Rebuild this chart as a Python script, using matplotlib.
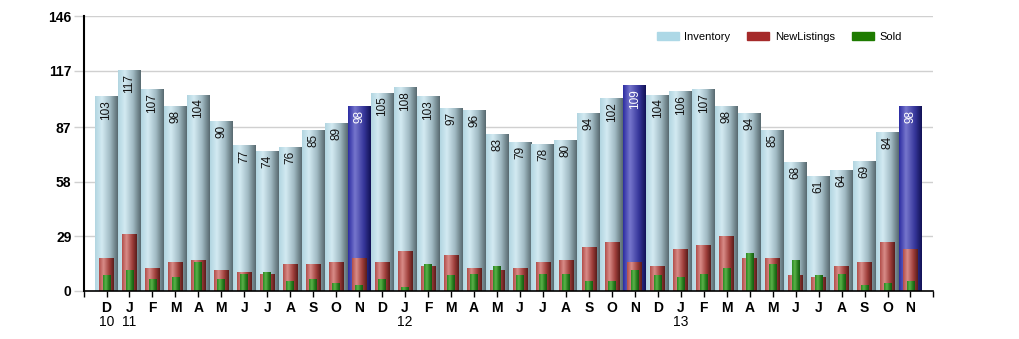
import matplotlib.pyplot as plt
import numpy as np
from matplotlib.colors import LinearSegmentedColormap
from matplotlib.patches import Patch

plt.rcParams['font.family'] = ['Liberation Sans', 'DejaVu Sans']

# monthly series, Dec 2010 .. Nov 2013
months = ['D', 'J', 'F', 'M', 'A', 'M', 'J', 'J', 'A', 'S', 'O', 'N'] * 3
years = {0: '10', 1: '11', 13: '12', 25: '13'}
inventory = [103, 117, 107, 98, 104, 90, 77, 74, 76, 85, 89, 98,
             105, 108, 103, 97, 96, 83, 79, 78, 80, 94, 102, 109,
             104, 106, 107, 98, 94, 85, 68, 61, 64, 69, 84, 98]
new_listings = [17, 30, 12, 15, 16, 11, 10, 9, 14, 14, 15, 17,
                15, 21, 13, 19, 12, 11, 12, 15, 16, 23, 26, 15,
                13, 22, 24, 29, 17, 17, 8, 7, 13, 15, 26, 22]
sold = [8, 11, 6, 7, 15, 6, 9, 10, 5, 6, 4, 3,
        6, 2, 14, 8, 9, 13, 8, 9, 9, 5, 5, 11,
        8, 7, 9, 12, 20, 14, 16, 8, 9, 3, 4, 5]
highlight = [11, 23, 35]
yticks = [0, 29, 58, 87, 117, 146]


def shade(stops):
    return LinearSegmentedColormap.from_list('s', stops)


cm_inv = shade([(0, '#b2d5e1'), (0.3, '#d3eaf2'), (0.65, '#a2bcc5'), (1, '#586a70')])
cm_nov = shade([(0, '#2c2ca2'), (0.3, '#7676cd'), (0.7, '#36369a'), (1, '#121256')])
cm_new = shade([(0, '#b24e4a'), (0.3, '#d98c88'), (0.7, '#9e3e3a'), (1, '#5a1c1a')])
cm_sold = shade([(0, '#2a8a22'), (0.35, '#5cb24a'), (0.7, '#2a8020'), (1, '#145a10')])
ramp = np.linspace(0, 1, 64).reshape(1, -1)


def gradient_fill(ax, bars, cmaps, z):
    for bar, cm in zip(bars, cmaps):
        x0, w, h = bar.get_x(), bar.get_width(), bar.get_height()
        bar.set_alpha(0)
        ax.imshow(ramp, cmap=cm, aspect='auto', extent=(x0, x0 + w, 0, h),
                  zorder=z, interpolation='bilinear')


fig = plt.figure(figsize=(10.19, 3.39), dpi=100)
ax = fig.add_axes([84 / 1019, 48 / 339, 849 / 1019, 275 / 339])

x = np.arange(len(inventory))
b_inv = ax.bar(x, inventory, 1.0, color='#add8e6', zorder=2)
b_new = ax.bar(x, new_listings, 0.64, color='#a52a2a', zorder=3)
b_sold = ax.bar(x, sold, 0.34, color='#1e7b00', zorder=4)

gradient_fill(ax, b_inv, [cm_nov if i in highlight else cm_inv for i in x], 2)
gradient_fill(ax, b_new, [cm_new] * len(x), 3)
gradient_fill(ax, b_sold, [cm_sold] * len(x), 4)

for i, v in enumerate(inventory):
    ax.text(i, v - 1.8, str(v), rotation=90, ha='center', va='top',
            fontsize=8.5, color='white' if i in highlight else '#111111', zorder=5)

ax.set_xlim(-0.98, 35.98)
ax.set_ylim(0, 146)
ax.set_yticks(yticks)
ax.set_yticklabels([str(t) for t in yticks], fontsize=10, fontweight='bold')
ax.set_xticks(x)
ax.set_xticklabels(months, fontsize=10, fontweight='bold')
for i, yr in years.items():
    ax.annotate(yr, xy=(i, 0), xycoords=('data', 'axes fraction'),
                xytext=(0, -17.5), textcoords='offset points',
                ha='center', va='top', fontsize=10)
ax.set_xticks([-0.98, 35.98], minor=True)
ax.tick_params(axis='x', which='both', length=4, width=1, color='black', pad=3.5)
ax.tick_params(axis='y', length=7, width=1, color='#d0d0d0', pad=2)
ax.grid(axis='y', color='#d0d0d0', linewidth=1, zorder=0)
ax.set_axisbelow(True)
for s in ['top', 'right']:
    ax.spines[s].set_visible(False)
ax.spines['left'].set_linewidth(1.5)
ax.spines['bottom'].set_linewidth(1.2)
ax.spines['left'].set_zorder(6)
ax.spines['bottom'].set_zorder(6)

handles = [Patch(color='#add8e6', label='Inventory'),
           Patch(color='#a52a2a', label='NewListings'),
           Patch(color='#1e7b00', label='Sold')]
ax.legend(handles=handles, ncol=3, frameon=False, fontsize=8,
          loc='upper right', bbox_to_anchor=(0.975, 0.98),
          handlelength=2.0, handleheight=0.75, columnspacing=1.5, handletextpad=0.5)

fig.savefig('out.png', dpi=100)
